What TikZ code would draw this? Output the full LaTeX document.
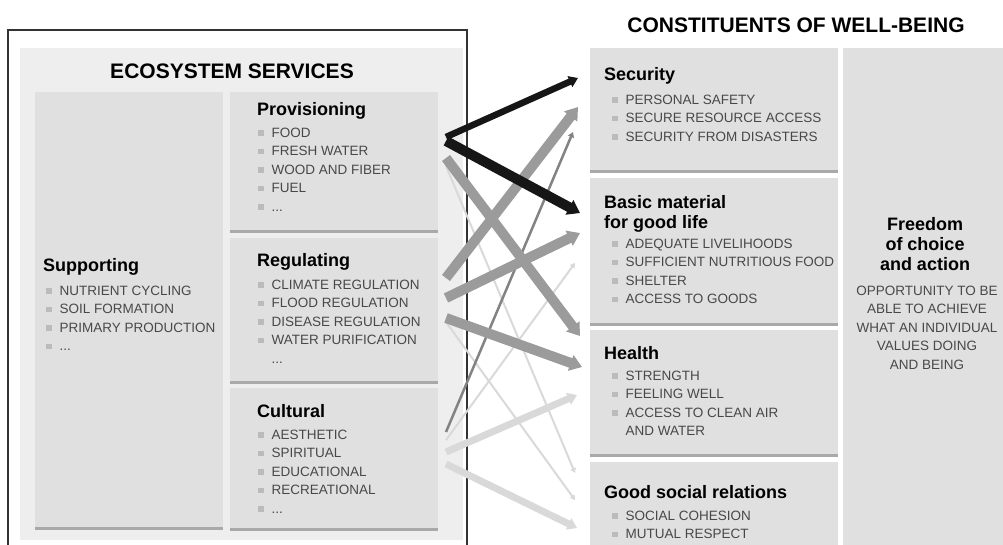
\documentclass[tikz,border=0pt]{standalone}
\usepackage{fontspec}
\setmainfont{Liberation Sans}
\usepackage{tikz}
\usetikzlibrary{arrows.meta,shadows,positioning}
\definecolor{panel}{HTML}{EEEEEE}
\definecolor{boxg}{HTML}{E0E0E0}
\definecolor{edgeg}{HTML}{A9A9A9}
\definecolor{bul}{HTML}{BBBBBB}
\definecolor{itemg}{HTML}{484848}
\definecolor{blk}{HTML}{161616}
\definecolor{midg}{HTML}{9B9B9B}
\definecolor{darkg}{HTML}{838383}
\definecolor{lightg}{HTML}{D9D9D9}
\newcommand{\blt}{{\color{bul}\rule[1.5pt]{5.5pt}{5.5pt}}\hspace{8pt}}
\newcommand{\nob}{\hspace{13.5pt}}
\tikzstyle{sbox}=[fill=boxg, anchor=north west, inner sep=0pt, drop shadow={shadow xshift=0pt, shadow yshift=-3pt, fill=edgeg, opacity=1}]
\tikzstyle{ttl}=[anchor=base, inner sep=0pt, font=\bfseries\fontsize{21}{24}\selectfont]
\tikzstyle{hd}=[anchor=base west, inner sep=0pt, align=left, font=\bfseries\fontsize{18}{20}\selectfont]
\tikzstyle{itm}=[anchor=base west, inner sep=0pt, align=left, text=itemg, font=\fontsize{13.5}{18.5}\selectfont]
\tikzstyle{arr}=[-{Triangle[length=3pt 0.9,width=3pt 1.3]}]

\begin{document}
\begin{tikzpicture}[x=1pt,y=-1pt]
\useasboundingbox (0,0) rectangle (1003,544);
\clip (0,0) rectangle (1003,544);

% ecosystem services (lists sit on the baseline of their last line)
\fill[panel] (20,48) rectangle (463,540);
\draw[line width=1.6pt, black!80] (8,560) |- (467,30) -- (467,560);
\node[ttl] (es) at (232,78) {ECOSYSTEM SERVICES};
\node[sbox, minimum width=188pt, minimum height=435pt] (sup) at (35,92) {};
\node[sbox, minimum width=208pt, minimum height=138pt] (prov) at (230,92) {};
\node[sbox, minimum width=208pt, minimum height=143pt, below=7pt of prov.south west, anchor=north west] (reg) {};
\node[sbox, minimum width=208pt, minimum height=140pt, below=7pt of reg.south west, anchor=north west] (cult) {};

\node[hd] (suph) at (43,271) {Supporting};
\node[itm] (supl) at (46,350.5) {\blt NUTRIENT CYCLING\\ \blt SOIL FORMATION\\ \blt PRIMARY PRODUCTION\\ \blt ...};
\node[hd] (provh) at (257,115) {Provisioning};
\node[itm] (provl) at (258,211) {\blt FOOD\\ \blt FRESH WATER\\ \blt WOOD AND FIBER\\ \blt FUEL\\ \blt ...};
\node[hd] (regh) at (257,266) {Regulating};
\node[itm] (regl) at (258,363) {\blt CLIMATE REGULATION\\ \blt FLOOD REGULATION\\ \blt DISEASE REGULATION\\ \blt WATER PURIFICATION\\ \nob ...};
\node[hd] (culth) at (257,417) {Cultural};
\node[itm] (cultl) at (258,513) {\blt AESTHETIC\\ \blt SPIRITUAL\\ \blt EDUCATIONAL\\ \blt RECREATIONAL\\ \blt ...};

% constituents of well-being
\node[ttl] (cw) at (796,32) {CONSTITUENTS OF WELL-BEING};
\node[sbox, minimum width=248pt, minimum height=122pt] (sec) at (590,48) {};
\node[sbox, minimum width=248pt, minimum height=145pt, below=7pt of sec.south west, anchor=north west] (bas) {};
\node[sbox, minimum width=248pt, minimum height=124pt, below=7pt of bas.south west, anchor=north west] (hea) {};
\node[sbox, minimum width=248pt, minimum height=100pt, below=8pt of hea.south west, anchor=north west] (soc) {};
\node[fill=boxg, anchor=north west, inner sep=0pt, minimum width=162pt, minimum height=520pt] (fre) at (843,48) {};

\node[hd] (sech) at (604,80) {Security};
\node[itm] (secl) at (612,141) {\blt PERSONAL SAFETY\\ \blt SECURE RESOURCE ACCESS\\ \blt SECURITY FROM DISASTERS};
\node[hd] (bash) at (604,228) {Basic material\\for good life};
\node[itm] (basl) at (612,303.5) {\blt ADEQUATE LIVELIHOODS\\ \blt SUFFICIENT NUTRITIOUS FOOD\\ \blt SHELTER\\ \blt ACCESS TO GOODS};
\node[hd] (heah) at (604,359) {Health};
\node[itm] (heal) at (612,435.5) {\blt STRENGTH\\ \blt FEELING WELL\\ \blt ACCESS TO CLEAN AIR\\ \nob AND WATER};
\node[hd] (soch) at (604,498) {Good social relations};
\node[itm] (socl) at (612,538.5) {\blt SOCIAL COHESION\\ \blt MUTUAL RESPECT};
\node[hd, anchor=base, align=center] (freh) at (925,270) {Freedom\\of choice\\and action};
\node[itm, anchor=base, align=center] (frel) at (927,369) {OPPORTUNITY TO BE\\ABLE TO ACHIEVE\\WHAT AN INDIVIDUAL\\VALUES DOING\\AND BEING};

% arrow ends
\coordinate (p1) at (446,137);
\coordinate (p2) at (446,141);
\coordinate (p3) at (446,158);
\coordinate (p4) at (446,166);
\coordinate (r1) at (446,278);
\coordinate (r2) at (446,298);
\coordinate (r3) at (446,318);
\coordinate (r4) at (446,322);
\coordinate (c1) at (446,432);
\coordinate (c2) at (446,440);
\coordinate (c3) at (446,452);
\coordinate (c4) at (446,464);
\coordinate (s1) at (578,78);
\coordinate (s2) at (578,107);
\coordinate (s3) at (573,132);
\coordinate (b1) at (580,213);
\coordinate (b2) at (580,233);
\coordinate (b3) at (575,263);
\coordinate (h1) at (580,336);
\coordinate (h2) at (582,367);
\coordinate (h3) at (577,395);
\coordinate (g1) at (575,473);
\coordinate (g2) at (575,500);
\coordinate (g3) at (577,528);

\draw[arr, line width=2pt, lightg] (p4) -- (g1);
\draw[arr, line width=2pt, lightg] (r4) -- (g2);
\draw[arr, line width=2pt, lightg] (c2) -- (b3);
\draw[arr, line width=7pt, lightg] (c3) -- (h3);
\draw[arr, line width=7pt, lightg] (c4) -- (g3);
\draw[arr, line width=2.5pt, darkg] (c1) -- (s3);
\draw[arr, line width=10pt, midg] (p3) -- (h1);
\draw[arr, line width=10pt, midg] (r1) -- (s2);
\draw[arr, line width=10pt, midg] (r2) -- (b2);
\draw[arr, line width=10pt, midg] (r3) -- (h2);
\draw[arr, line width=6.5pt, blk] (p1) -- (s1);
\draw[arr, line width=10pt, blk] (p2) -- (b1);
\end{tikzpicture}
\end{document}
